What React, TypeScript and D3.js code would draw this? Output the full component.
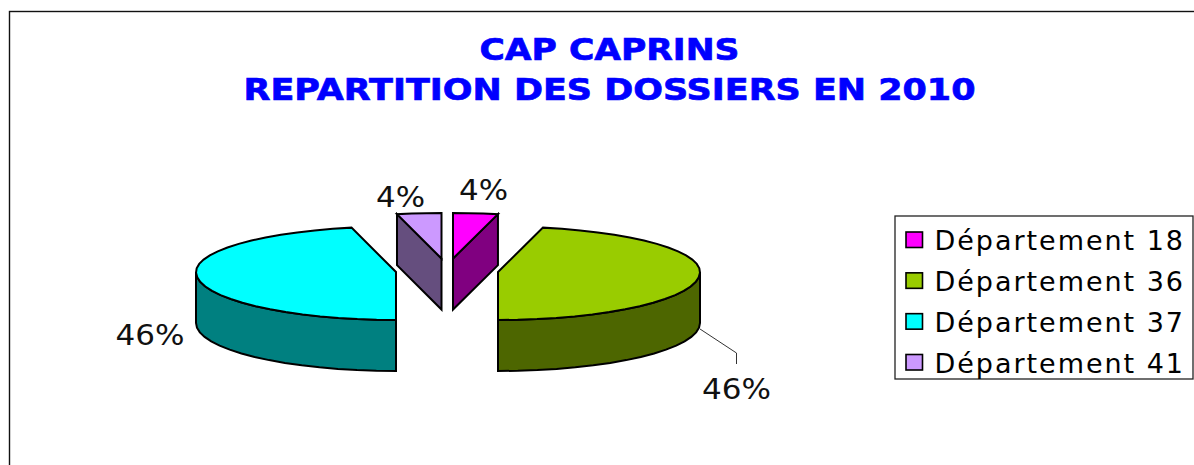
import React from "react";
import * as d3 from "d3";

const titleLines = ["CAP CAPRINS", "REPARTITION DES DOSSIERS EN 2010"];
const departments = ["Département 18", "Département 36", "Département 37", "Département 41"];
const dossiers = [1, 13, 13, 1];
const topColors = ["#ff00ff", "#99cc00", "#00ffff", "#cc99ff"];
const wallColors = ["#800080", "#4d6600", "#008080", "#654e7e"];

const W = 1194, H = 465;
const DEPTH = 51;
const centers: [number, number][] = [[453, 258.5], [498, 272], [396, 272], [441.5, 258.5]];
const labelPos: [number, number][] = [[483.5, 200], [736.5, 399], [150, 345], [400.5, 207]];
const FONT = "'DejaVu Sans', Verdana, sans-serif";

const pctFmt = d3.format(".0%");
const total = d3.sum(dossiers);
const arcs = d3.pie<number>().sort(null).startAngle(0).endAngle(2 * Math.PI)(dossiers);

const xScale = d3.scaleLinear().domain([-1, 0, 1]).range([-200, 0, 202]);
const yScale = d3.scaleLinear().domain([-1, 0, 1]).range([48, 0, -45.5]);
const project = (c: [number, number], a: number, dy = 0): [number, number] => [
  c[0] + xScale(Math.sin(a)),
  c[1] + yScale(Math.cos(a)) + dy,
];
const line = d3.line();
const arcPoints = (c: [number, number], a0: number, a1: number, dy = 0) => {
  const n = Math.max(2, Math.ceil(Math.abs(a1 - a0) / 0.1));
  return d3.range(n + 1).map((i) => project(c, a0 + ((a1 - a0) * i) / n, dy));
};

export default function App() {
  return (
    <svg width={W} height={H} viewBox={`0 0 ${W} ${H}`} style={{ position: "fixed", left: 0, top: 0, display: "block", background: "#fff" }}>
      <rect x={9.5} y={11.5} width={W + 20} height={H + 20} fill="#fff" stroke="#111" strokeWidth={1.4} />
      {titleLines.map((t, i) => (
        <text key={t} x={609.5} y={[60, 100][i]} textAnchor="middle" fill="#0000ff" stroke="#0000ff" strokeWidth={0.7}
          fontFamily={FONT} fontWeight="bold" fontSize={31}
          textLength={[260, 732][i]} lengthAdjust="spacingAndGlyphs">{t}</text>
      ))}

      {arcs.map((d, i) => {
        const c = centers[i];
        const wallStart = Math.max(d.startAngle, Math.PI / 2);
        const wallEnd = Math.min(d.endAngle, (3 * Math.PI) / 2);
        const walls: [number, number][][] = [];
        if (wallEnd > wallStart) {
          const a = arcPoints(c, wallStart, wallEnd);
          const b = arcPoints(c, wallEnd, wallStart, DEPTH);
          walls.push([...a, ...b]);
        }
        if (d.endAngle - d.startAngle < 1) {
          const rimAngle = i === 0 ? d.endAngle : d.startAngle;
          const rim = project(c, rimAngle);
          walls.push([rim, c, [c[0], c[1] + DEPTH], [rim[0], rim[1] + DEPTH]]);
        }
        const top: [number, number][] = [c, ...arcPoints(c, d.startAngle, d.endAngle)];
        return (
          <g key={i} stroke="#000" strokeWidth={2} strokeLinejoin="miter">
            {walls.map((w, k) => <path key={k} d={line(w) + "Z"} fill={wallColors[i]} />)}
            <path d={line(top) + "Z"} fill={topColors[i]} />
          </g>
        );
      })}

      <path d={d3.line()([[700, 329], [736.5, 353], [736.5, 364]]) || ""} fill="none" stroke="#333" strokeWidth={1} />

      {arcs.map((d, i) => (
        <text key={i} x={labelPos[i][0]} y={labelPos[i][1]} textAnchor="middle" fontFamily={FONT} fontSize={28} fill="#111"
          textLength={i === 1 || i === 2 ? 69 : 49} lengthAdjust="spacingAndGlyphs">
          {pctFmt(d.value / total)}
        </text>
      ))}

      <rect x={895} y={216} width={298} height={163} fill="#fff" stroke="#222" strokeWidth={1.3} />
      {departments.map((name, i) => {
        const y = d3.scaleLinear().domain([0, 3]).range([250, 372.5])(i);
        return (
          <g key={name}>
            <rect x={906} y={y - 18} width={16.5} height={15.5} fill={topColors[i]} stroke="#000" strokeWidth={1.6} />
            <text x={934.5} y={y} fontFamily={FONT} fontSize={27} fill="#000" textLength={248.5} lengthAdjust="spacing">{name}</text>
          </g>
        );
      })}
    </svg>
  );
}
